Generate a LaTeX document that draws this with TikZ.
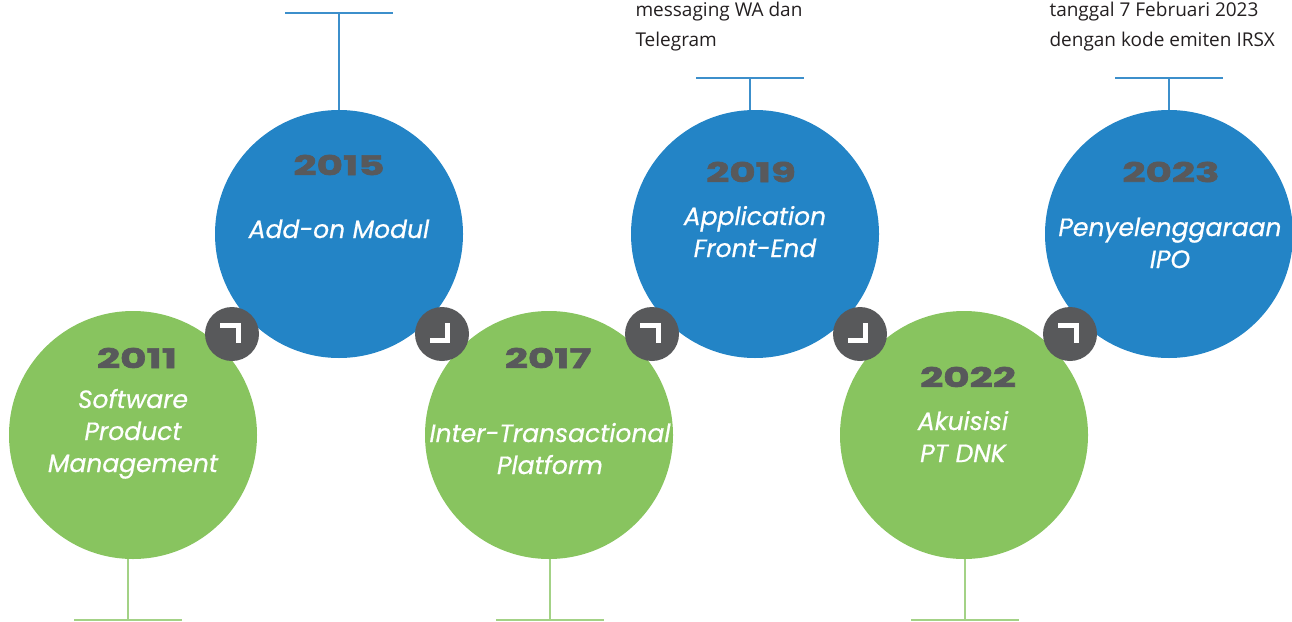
\documentclass[tikz,border=0pt]{standalone}
\usepackage{fontspec}
\setmainfont{Open Sans}
\newfontfamily\labelfont[FakeBold=0.6]{Poppins}
\newfontfamily\yearfont[FakeStretch=1.5,FakeBold=2.5]{Poppins}
\definecolor{biru}{HTML}{2384C6}
\definecolor{hijau}{HTML}{88C45F}
\definecolor{abu}{HTML}{58595B}
\definecolor{teks}{HTML}{231F20}
\definecolor{garisbiru}{HTML}{3C8FCB}
\definecolor{garishijau}{HTML}{A3D286}
\begin{document}
\begin{tikzpicture}[x=1pt,y=-1pt,
	bulat/.style={circle,minimum size=248pt,inner sep=0pt},
	nut/.style={circle,fill=abu,minimum size=54pt,inner sep=0pt},
	siku/.style={white,line width=5pt},
	tahun/.style={text=abu,font=\yearfont\bfseries\fontsize{27}{27}\selectfont},
	judul/.style={text=white,font=\labelfont\itshape\fontsize{25}{32}\selectfont,align=center,anchor=base},
	catatan/.style={text=teks,font=\fontsize{19}{30}\selectfont,align=left,anchor=base west}]
	\useasboundingbox (0,0) rectangle (1292,621);
	\foreach \n/\x/\y/\w in {c11/133/435/hijau,c15/339/234/biru,c17/549/435/hijau,c19/755/234/biru,c22/964/435/hijau,c23/1169/234/biru}
	\node[bulat,fill=\w] (\n) at (\x,\y) {};
	\path
	(339,13) coordinate (t15)
	(750,78) coordinate (t19)
	(1169,78) coordinate (t23)
	(128,620) coordinate (b11)
	(550,620) coordinate (b17)
	(965,620) coordinate (b22);
	%Garis di atas dan di bawah lingkaran
	\draw[garisbiru,line width=1.5pt] (c15.north -| t15)--(t15) (t15)+(-54,0)--+(54,0)
	(c19.north -| t19)--(t19) (t19)+(-54,0)--+(54,0)
	(c23.north -| t23)--(t23) (t23)+(-54,0)--+(54,0);
	\draw[garishijau,line width=1.5pt] (c11.south -| b11)--(b11) (b11)+(-54,0)--+(54,0)
	(c17.south -| b17)--(b17) (b17)+(-54,0)--+(54,0)
	(c22.south -| b22)--(b22) (b22)+(-54,0)--+(54,0);
	\foreach \n/\x in {n1/232,n2/442,n3/652,n4/860,n5/1070}
	\node[nut] (\n) at (\x,334) {};
	\foreach \n in {n1,n3,n5}
	\draw[siku] ([shift={(-12,-8.5)}]\n.center)--++(18.5,0)--++(0,17.5);
	\foreach \n in {n2,n4}
	\draw[siku] ([shift={(5.7,-11)}]\n.center)--++(0,17.5)--++(-18.2,0);
	\node[tahun] (y11) at (137,358) {2011};
	\node[tahun] (y15) at (339,165) {2015};
	\node[tahun] (y17) at (548,358) {2017};
	\node[tahun] (y19) at (751,172) {2019};
	\node[tahun] (y22) at (968,377) {2022};
	\node[tahun] (y23) at (1171,172) {2023};
	\node[judul] (j11) at (133,472) {Software\\Product\\Management};
	\node[judul] (j15) at (339,238) {Add-on Modul};
	\node[judul] (j17) at (550,474) {Inter-Transactional\\Platform};
	\node[judul] (j19) at (755,257) {Application\\Front-End};
	\node[judul] (j22) at (963,462) {Akuisisi\\PT DNK};
	\node[judul] (j23) at (1170,268) {Penyelenggaraan\\IPO};
	\node[catatan] (k19) at (632,46) {messaging WA dan\\Telegram};
	\node[catatan] (k23) at (1046,46) {tanggal 7 Februari 2023\\dengan kode emiten IRSX};
\end{tikzpicture}
\end{document}
